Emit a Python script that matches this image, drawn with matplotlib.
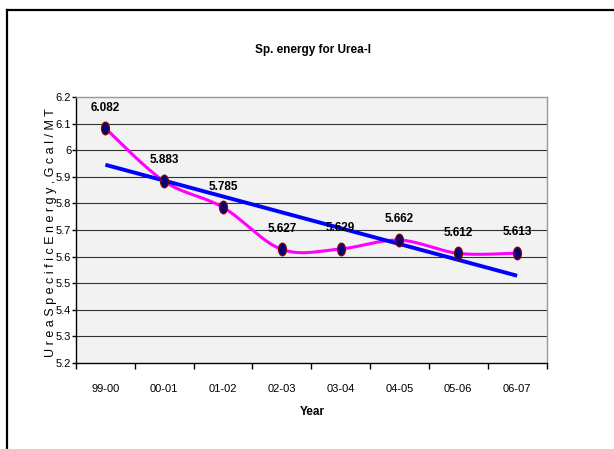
import numpy as np
import matplotlib
matplotlib.use("Agg")
import matplotlib.pyplot as plt
from matplotlib.lines import Line2D
from matplotlib.path import Path
from matplotlib.transforms import Affine2D

plt.rcParams["font.family"] = ["Liberation Sans", "DejaVu Sans"]

years = ["99-00", "00-01", "01-02", "02-03", "03-04", "04-05", "05-06", "06-07"]
energy = [6.082, 5.883, 5.785, 5.627, 5.629, 5.662, 5.612, 5.613]
title = "Sp. energy for Urea-I"
ylabel = "U r e a S p e c i f i c E n e r g y , G c a l / M T"
xlabel = "Year"

x = np.arange(len(years)) + 0.5
y = np.array(energy)


# smoothed line like the spreadsheet one (catmull-rom through the points)
def smooth(px, py, n=30):
    P = np.column_stack([px, py])
    P = np.vstack([P[0], P, P[-1]])
    out = []
    for i in range(1, len(P) - 2):
        p0, p1, p2, p3 = P[i - 1], P[i], P[i + 1], P[i + 2]
        c1 = p1 + (p2 - p0) / 6
        c2 = p2 - (p3 - p1) / 6
        t = np.linspace(0, 1, n)[:, None]
        seg = (1 - t) ** 3 * p1 + 3 * (1 - t) ** 2 * t * c1 + 3 * (1 - t) * t ** 2 * c2 + t ** 3 * p2
        out.append(seg)
    out = np.vstack(out)
    return out[:, 0], out[:, 1]


sx, sy = smooth(x, y)

# linear trend
k, b = np.polyfit(x, y, 1)
tx = np.array([x[0], x[-1]])
ty = k * tx + b

fig = plt.figure(figsize=(6.14, 4.49), dpi=100)
fig.patch.set_facecolor("white")
ax = fig.add_axes([76 / 614, 1 - 363 / 449, 470.5 / 614, 266 / 449])
ax.set_facecolor("#f2f2f2")

ax.set_xlim(0, 8)
ax.set_ylim(5.2, 6.2)
ax.set_yticks(np.round(np.arange(5.2, 6.21, 0.1), 1))
ax.set_yticklabels(["5.2", "5.3", "5.4", "5.5", "5.6", "5.7", "5.8", "5.9", "6", "6.1", "6.2"])
for v in np.arange(5.3, 6.15, 0.1):
    ax.axhline(v, color="#333333", lw=0.8, zorder=1)

ax.plot(sx, sy, color="#ff00ff", lw=2.2, zorder=3, solid_capstyle="round")
ax.plot(tx, ty, color="#0000ff", lw=2.8, zorder=4, solid_capstyle="butt")

ell = Path.unit_circle().transformed(Affine2D().scale(0.62, 1.0))
ax.plot(x, y, ls="none", marker=ell, ms=9, mfc="#000080", mec="#800000", mew=1.0, zorder=5)

for xi, yi in zip(x, y):
    ax.annotate(f"{yi:.3f}", (xi, yi), xytext=(0, 15), textcoords="offset points",
                ha="center", va="center", fontsize=8.5, fontweight="bold", zorder=6)

ax.set_xticks(x)
ax.set_xticklabels(years)
ax.set_xticks(np.arange(0, 9), minor=True)
ax.tick_params(axis="x", which="major", length=0, pad=15, labelsize=8)
ax.tick_params(axis="x", which="minor", length=4, width=1, color="black", direction="out")
ax.tick_params(axis="y", length=3, width=1, pad=0.5, labelsize=8)

for s in ["left", "bottom"]:
    ax.spines[s].set_color("black")
    ax.spines[s].set_linewidth(1)
for s in ["top", "right"]:
    ax.spines[s].set_color("#999999")
    ax.spines[s].set_linewidth(1)

fig.text(313 / 614, 1 - 50 / 449, title, ha="center", va="center", fontsize=8.5, fontweight="bold")
fig.text(312 / 614, 1 - 412 / 449, xlabel, ha="center", va="center", fontsize=8.5, fontweight="bold")
fig.text(51 / 614, 1 - 233 / 449, ylabel, ha="center", va="center", rotation=90,
         fontsize=9)

# outer frame, cut by the picture edges
fig.add_artist(Line2D([7 / 614, 1.0], [1 - 10 / 449, 1 - 10 / 449], color="black", lw=1.6,
                      transform=fig.transFigure))
fig.add_artist(Line2D([7 / 614, 7 / 614], [1 - 10 / 449, 0.0], color="black", lw=1.6,
                      transform=fig.transFigure))

fig.savefig("out.png", dpi=100)
